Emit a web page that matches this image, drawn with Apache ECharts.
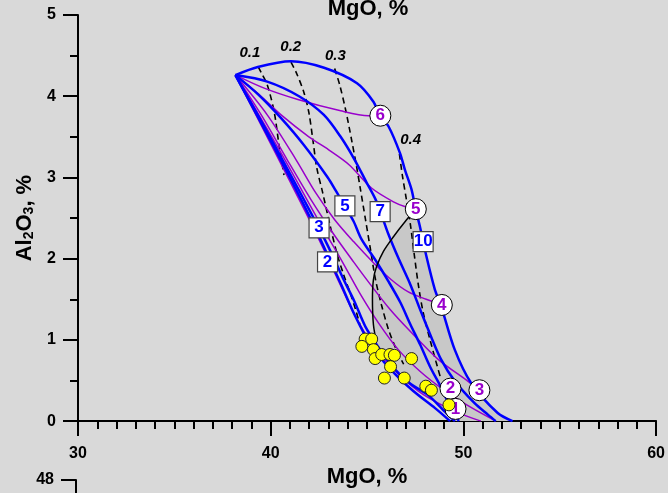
<!DOCTYPE html>
<html>
<head>
<meta charset="utf-8">
<script src="https://cdn.jsdelivr.net/npm/echarts@6/dist/echarts.min.js"></script>
<style>
  html, body { margin: 0; padding: 0; background: #d9d9d9; }
  #chart { width: 668px; height: 493px; }
</style>
</head>
<body>
<div id="chart"></div>
<script>
// Residue compositions (MgO, Al2O3 wt%) for melting paths from a common source.

// Polybaric paths (blue), labelled by starting pressure
const curveB10 = [[38.17,4.26],[39.33,4.36],[41.05,4.43],[42.77,4.35],[44.48,4.16],[45.34,3.93],[45.64,3.77],[46.11,3.63],[46.71,3.30],[46.97,3.09],[47.31,2.85],[47.52,2.61],[47.74,2.40],[48.08,2.03],[48.52,1.62],[48.84,1.42],[49.55,0.88],[50.40,0.47],[51.78,0.10],[52.55,0]];
const curveB7 = [[38.17,4.26],[39.82,4.18],[41.47,4.00],[42.76,3.77],[43.63,3.50],[44.35,3.22],[44.97,2.94],[45.44,2.73],[45.75,2.54],[46.11,2.30],[46.62,2.01],[47.25,1.68],[47.76,1.37],[48.27,1.07],[48.84,0.76],[49.56,0.49],[50.58,0.22],[51.27,0.08],[51.68,0]];
const curveB5 = [[38.17,4.26],[39.36,4.02],[40.54,3.73],[41.72,3.40],[42.96,3.00],[43.37,2.84],[43.84,2.65],[44.30,2.46],[44.71,2.24],[45.44,1.98],[46.11,1.72],[46.73,1.46],[47.25,1.19],[47.76,0.94],[48.27,0.67],[48.94,0.37],[49.36,0.14],[49.77,0]];
const curveB3 = [[38.17,4.26],[40.33,3.34],[42.50,2.38],[43.27,2.01],[43.79,1.74],[44.35,1.47],[44.92,1.16],[45.59,0.91],[46.31,0.67],[47.25,0.46],[48.17,0.32],[48.94,0.14],[49.56,0]];
const curveB2 = [[38.17,4.26],[40.18,3.37],[42.08,2.49],[42.96,2.04],[43.68,1.67],[44.35,1.31],[45.18,0.94],[46.21,0.64],[47.40,0.37],[48.53,0.16],[49.31,0]];

// Isobaric paths (purple), 1-6 GPa
const curveP1 = [[38.17,4.26],[40.03,3.40],[41.88,2.54],[42.76,2.11],[43.53,1.72],[44.35,1.31],[45.28,0.94],[46.37,0.64],[47.66,0.37],[48.94,0.19],[49.98,0.08],[50.91,0]];
const curveP2 = [[38.17,4.26],[40.49,3.32],[42.60,2.42],[43.79,1.93],[44.66,1.56],[45.59,1.21],[46.62,0.88],[47.76,0.61],[48.94,0.39],[50.24,0.19],[51.68,0]];
const curveP3 = [[38.17,4.26],[39.51,3.77],[40.85,3.22],[42.08,2.73],[43.27,2.30],[44.30,1.96],[45.18,1.68],[46.21,1.37],[47.14,1.13],[48.69,0.76],[50.24,0.49],[50.83,0.38]];
const curveP4 = [[38.17,4.26],[39.82,3.77],[41.31,3.22],[42.34,2.81],[43.32,2.48],[44.30,2.21],[45.33,1.95],[46.26,1.74],[47.14,1.59],[48.07,1.50],[48.88,1.43]];
const curveP5 = [[38.17,4.26],[39.40,4.02],[40.54,3.77],[41.98,3.50],[43.01,3.34],[44.05,3.16],[45.23,2.87],[46.37,2.70],[46.99,2.64],[47.53,2.61]];
const curveP6 = [[38.17,4.26],[39.66,4.10],[41.41,3.96],[43.63,3.82],[45.07,3.76],[45.69,3.76]];

// Melt-fraction isopleths (dashed)
const iso01 = [[39.35,4.36],[39.51,4.29],[39.82,4.14],[40.18,3.81],[40.43,3.40],[40.69,3.03]];
const iso02 = [[41.05,4.42],[41.31,4.30],[41.72,4.05],[41.98,3.80],[42.19,3.46],[42.39,3.12],[42.70,2.81],[43.07,2.42],[43.43,2.07],[43.79,1.80],[44.15,1.56],[44.41,1.37],[44.66,1.16]];
const iso03 = [[43.32,4.34],[43.58,4.14],[43.89,3.83],[44.20,3.46],[44.46,3.13],[44.66,2.85],[44.92,2.48],[45.18,2.11],[45.44,1.74],[45.75,1.43],[46.11,1.13],[46.52,0.88],[46.90,0.70]];
const iso04 = [[46.68,3.29],[46.83,3.03],[47.04,2.73],[47.25,2.42],[47.45,2.05],[47.66,1.68],[47.91,1.34],[48.27,1.00],[48.58,0.73],[48.84,0.51]];
const isoNames = ['0.1', '0.2', '0.3', '0.4'];
const isoLabelAt = [[38.92,4.54],[41.04,4.61],[43.36,4.50],[47.26,3.46]];

// Boundary of the shaded field
const boundaryLine = [[47.53,2.61],[46.99,2.46],[46.37,2.27],[45.85,2.09],[45.49,1.90],[45.33,1.74],[45.28,1.50],[45.33,1.19],[45.49,0.97]];

// Path labels
const boxNames = ['2', '3', '5', '7', '10'];
const boxAt = [[42.95,1.96],[42.51,2.38],[43.85,2.65],[45.68,2.58],[47.91,2.21]];
const circleNames = ['1', '2', '3', '4', '5', '6'];
const circleAt = [[49.59,0.15],[49.33,0.40],[50.83,0.38],[48.88,1.43],[47.53,2.61],[45.69,3.76]];

// Sample compositions
const sampleMgO = [44.90,45.24,44.73,45.33,45.42,45.76,46.19,46.42,47.31,46.22,45.90,46.93,48.05,48.34,49.25];
const sampleAl2O3 = [1.01,1.01,0.92,0.88,0.77,0.82,0.82,0.81,0.77,0.67,0.53,0.53,0.43,0.38,0.20];

const FONT = '"Liberation Sans", Arial, Helvetica, sans-serif';
const BLUE = '#0000ff';
const PURPLE = '#9900cc';

// Shaded field: boundary, lower edge along path 3, back up along path 10
const shadedRegion = boundaryLine.concat(
  curveB3.filter(p => p[0] >= 45.59),
  curveB10.filter(p => p[0] >= 47.52).reverse()
);

const chart = echarts.init(document.getElementById('chart'), null, { renderer: 'canvas' });

function pathSeries(data, color, width, z, dashed) {
  return {
    type: 'line', xAxisIndex: 0, yAxisIndex: 0, data: data,
    symbol: 'none', smooth: 0.3, silent: true, z: z,
    lineStyle: { color: color, width: width, type: dashed ? [6, 4] : 'solid' }
  };
}

const axisCommon = {
  axisLine: { show: true, onZero: false, lineStyle: { color: '#000', width: 2 } },
  axisTick: { show: true, inside: false, length: 15, lineStyle: { color: '#000', width: 2 } },
  splitLine: { show: false },
  minorSplitLine: { show: false }
};
const labelText = { fontSize: 16, fontWeight: 'bold', color: '#000', fontFamily: FONT };
const markText = { textBorderWidth: 0, textShadowBlur: 0, fontWeight: 'bold', fontFamily: FONT };

const option = {
  backgroundColor: '#d9d9d9',
  animation: false,
  grid: [
    { left: 78, right: 9, top: 15, bottom: 71 },
    { left: 76, right: 9, top: 480, height: 240 }
  ],
  xAxis: [
    Object.assign({}, axisCommon, {
      gridIndex: 0, type: 'value', min: 30, max: 60, interval: 10,
      name: 'MgO, %', nameLocation: 'middle', nameGap: 44,
      nameTextStyle: { fontSize: 22, fontWeight: 'bold', color: '#000', fontFamily: FONT },
      minorTick: { show: true, splitNumber: 10, length: 8, lineStyle: { color: '#000', width: 2 } },
      axisLabel: Object.assign({ margin: 24, showMinLabel: true, showMaxLabel: true }, labelText)
    }),
    { gridIndex: 1, type: 'value', min: 30, max: 60, show: false }
  ],
  yAxis: [
    Object.assign({}, axisCommon, {
      gridIndex: 0, type: 'value', min: 0, max: 5, interval: 1,
      name: 'Al{sub|2}O{sub|3}, %', nameLocation: 'middle', nameRotate: 90, nameGap: 35,
      nameTextStyle: {
        fontSize: 22, fontWeight: 'bold', color: '#000', fontFamily: FONT,
        rich: { sub: { fontSize: 14, fontWeight: 'bold', color: '#000', fontFamily: FONT, verticalAlign: 'bottom' } }
      },
      minorTick: { show: true, splitNumber: 2, length: 8, lineStyle: { color: '#000', width: 2 } },
      axisLabel: Object.assign({ margin: 22, showMinLabel: true, showMaxLabel: true }, labelText)
    }),
    Object.assign({}, axisCommon, {
      gridIndex: 1, type: 'value', min: 40, max: 48, interval: 4,
      axisLabel: Object.assign({ margin: 22, showMaxLabel: true }, labelText)
    })
  ],
  graphic: [
    {
      type: 'text', x: 368, y: 20, silent: true,
      style: { text: 'MgO, %', fill: '#000', font: 'bold 22px ' + FONT, textAlign: 'center', textVerticalAlign: 'bottom', verticalAlign: 'bottom' }
    }
  ],
  series: [
    {
      type: 'custom', xAxisIndex: 0, yAxisIndex: 0, silent: true, z: 1,
      data: [shadedRegion[0]],
      renderItem: function (params, api) {
        return {
          type: 'polygon',
          shape: { points: shadedRegion.map(p => api.coord(p)) },
          style: { fill: '#c8c8c8' }
        };
      }
    },
    pathSeries(iso01, '#000', 1.6, 3, true),
    pathSeries(iso02, '#000', 1.6, 3, true),
    pathSeries(iso03, '#000', 1.6, 3, true),
    pathSeries(iso04, '#000', 1.6, 3, true),
    pathSeries(curveP1, PURPLE, 1.5, 4),
    pathSeries(curveP2, PURPLE, 1.5, 4),
    pathSeries(curveP3, PURPLE, 1.5, 4),
    pathSeries(curveP4, PURPLE, 1.5, 4),
    pathSeries(curveP5, PURPLE, 1.5, 4),
    pathSeries(curveP6, PURPLE, 1.5, 4),
    pathSeries(curveB2, BLUE, 2.5, 5),
    pathSeries(curveB3, BLUE, 2.5, 5),
    pathSeries(curveB5, BLUE, 2.5, 5),
    pathSeries(curveB7, BLUE, 2.5, 5),
    pathSeries(curveB10, BLUE, 2.5, 5),
    pathSeries(boundaryLine, '#000', 1.5, 5),
    {
      type: 'scatter', xAxisIndex: 0, yAxisIndex: 0, silent: true, z: 6,
      symbol: 'rect', symbolSize: 20,
      itemStyle: { color: '#fff', borderColor: '#444', borderWidth: 1.2, opacity: 1 },
      label: Object.assign({ show: true, position: 'inside', formatter: '{b}', color: BLUE, fontSize: 17 }, markText),
      data: boxNames.map((n, i) => ({ name: n, value: boxAt[i] }))
    },
    {
      type: 'scatter', xAxisIndex: 0, yAxisIndex: 0, silent: true, z: 6,
      symbol: 'circle', symbolSize: 21,
      itemStyle: { color: '#fff', borderColor: '#000', borderWidth: 1, opacity: 1 },
      label: Object.assign({ show: true, position: 'inside', formatter: '{b}', color: PURPLE, fontSize: 17 }, markText),
      data: circleNames.map((n, i) => ({ name: n, value: circleAt[i] }))
    },
    {
      type: 'scatter', xAxisIndex: 0, yAxisIndex: 0, silent: true, z: 6,
      symbolSize: 0,
      itemStyle: { opacity: 1 },
      label: Object.assign({ show: true, position: 'inside', formatter: '{b}', color: '#000', fontSize: 15, fontStyle: 'italic' }, markText),
      data: isoNames.map((n, i) => ({ name: n, value: isoLabelAt[i] }))
    },
    {
      type: 'scatter', xAxisIndex: 0, yAxisIndex: 0, silent: true, z: 7,
      symbol: 'circle', symbolSize: 12,
      itemStyle: { color: '#ffff00', borderColor: '#222', borderWidth: 1, opacity: 1 },
      data: sampleMgO.map((x, i) => [x, sampleAl2O3[i]])
    }
  ]
};

chart.setOption(option);
</script>
</body>
</html>
